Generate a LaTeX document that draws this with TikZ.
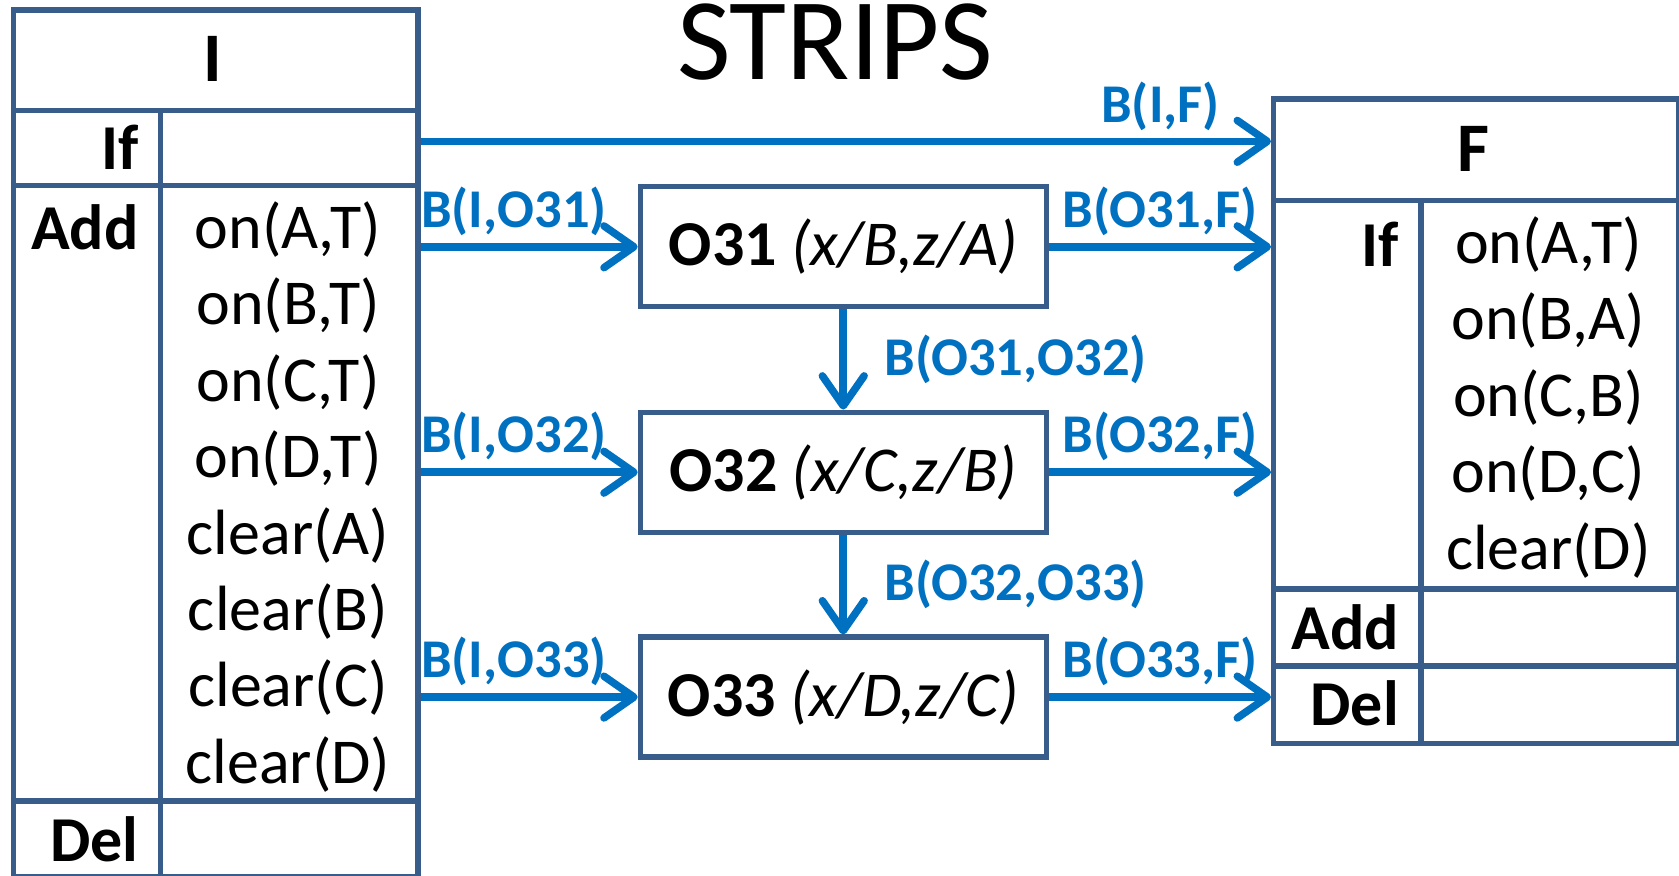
\documentclass[tikz,border=0pt]{standalone}
\usepackage{fontspec}
\setmainfont{Carlito}
\usetikzlibrary{arrows.meta}
\definecolor{tableblue}{RGB}{56,93,138}
\definecolor{linkblue}{RGB}{0,112,192}

\begin{document}
\begin{tikzpicture}

%
% Styles
%
\tikzstyle{tablebox} = [draw=tableblue,line width=1.4pt,inner sep=0pt]
\tikzstyle{rule}     = [draw=tableblue,line width=1.4pt]
\tikzstyle{opbox}    = [tablebox,minimum width=3.79cm,minimum height=1.12cm,font=\fontsize{17}{20}\selectfont]
\tikzstyle{head}     = [font=\fontsize{18.5}{22}\selectfont\bfseries]
\tikzstyle{key}      = [anchor=east,inner sep=0pt,font=\fontsize{17}{20}\selectfont\bfseries]
\tikzstyle{cell}     = [align=center,inner sep=0pt,font=\fontsize{17}{20.3}\selectfont]
\tikzstyle{link}     = [-{Straight Barb[length=2.8mm,width=3.9mm,round]},draw=linkblue,line width=2pt]
\tikzstyle{lbl}      = [anchor=base,inner sep=0pt,text=linkblue,font=\fontsize{14.5}{17}\selectfont\bfseries]

\useasboundingbox (0,0) rectangle (15.68,-8.18);

\node[font=\fontsize{31}{36}\selectfont] (title) at (7.80,-0.39) {STRIPS};

% initial state
\node[tablebox,minimum width=3.78cm,minimum height=8.09cm,anchor=north west] (I) at (0.10,-0.07) {};
\draw[rule] (0.10,-1.03) -- (3.88,-1.03);
\draw[rule] (0.10,-1.73) -- (3.88,-1.73);
\draw[rule] (0.10,-7.48) -- (3.88,-7.48);
\draw[rule] (1.50,-1.03) -- (1.50,-8.16);
\node[head] (Ihead) at (1.99,-0.55) {I};
\node[key] (Iif)  at (1.30,-1.38) {If};
\node[key] (Iadd) at (1.30,-2.12) {Add};
\node[key] (Idel) at (1.30,-7.84) {Del};
\node[cell] (Ilist) at (2.69,-4.64)
  {on(A,T)\\on(B,T)\\on(C,T)\\on(D,T)\\clear(A)\\clear(B)\\clear(C)\\clear(D)};

% final state
\node[tablebox,minimum width=3.78cm,minimum height=6.02cm,anchor=north west] (F) at (11.87,-0.90) {};
\draw[rule] (11.87,-1.87) -- (15.65,-1.87);
\draw[rule] (11.87,-5.50) -- (15.65,-5.50);
\draw[rule] (11.87,-6.22) -- (15.65,-6.22);
\draw[rule] (13.27,-1.87) -- (13.27,-6.92);
\node[head] (Fhead) at (13.76,-1.39) {F};
\node[key] (Fif)  at (13.07,-2.28) {If};
\node[key] (Fadd) at (13.07,-5.86) {Add};
\node[key] (Fdel) at (13.07,-6.57) {Del};
\node[cell] (Flist) at (14.46,-3.71)
  {on(A,T)\\on(B,A)\\on(C,B)\\on(D,C)\\clear(D)};

% operators
\node[opbox] (O31) at (7.875,-2.305) {\textbf{O31} \textit{(x/B,z/A)}};
\node[opbox] (O32) at (7.875,-4.41)  {\textbf{O32} \textit{(x/C,z/B)}};
\node[opbox] (O33) at (7.875,-6.51)  {\textbf{O33} \textit{(x/D,z/C)}};

% links
\coordinate (top) at (0,-1.32);
\draw[link] (I.east |- top) -- node[lbl,pos=.87,yshift=1.8mm] {B(I,F)} (F.west |- top);

\draw[link] (I.east |- O31) -- node[lbl,pos=.43,yshift=1.8mm] {B(I,O31)} (O31);
\draw[link] (I.east |- O32) -- node[lbl,pos=.43,yshift=1.8mm] {B(I,O32)} (O32);
\draw[link] (I.east |- O33) -- node[lbl,pos=.43,yshift=1.8mm] {B(I,O33)} (O33);

\draw[link] (O31) -- node[lbl,yshift=1.8mm] {B(O31,F)} (F.west |- O31);
\draw[link] (O32) -- node[lbl,yshift=1.8mm] {B(O32,F)} (F.west |- O32);
\draw[link] (O33) -- node[lbl,yshift=1.8mm] {B(O33,F)} (F.west |- O33);

\draw[link] (O31) -- node[lbl,anchor=west,xshift=3.5mm] {B(O31,O32)} (O32);
\draw[link] (O32) -- node[lbl,anchor=west,xshift=3.5mm] {B(O32,O33)} (O33);

\end{tikzpicture}
\end{document}
